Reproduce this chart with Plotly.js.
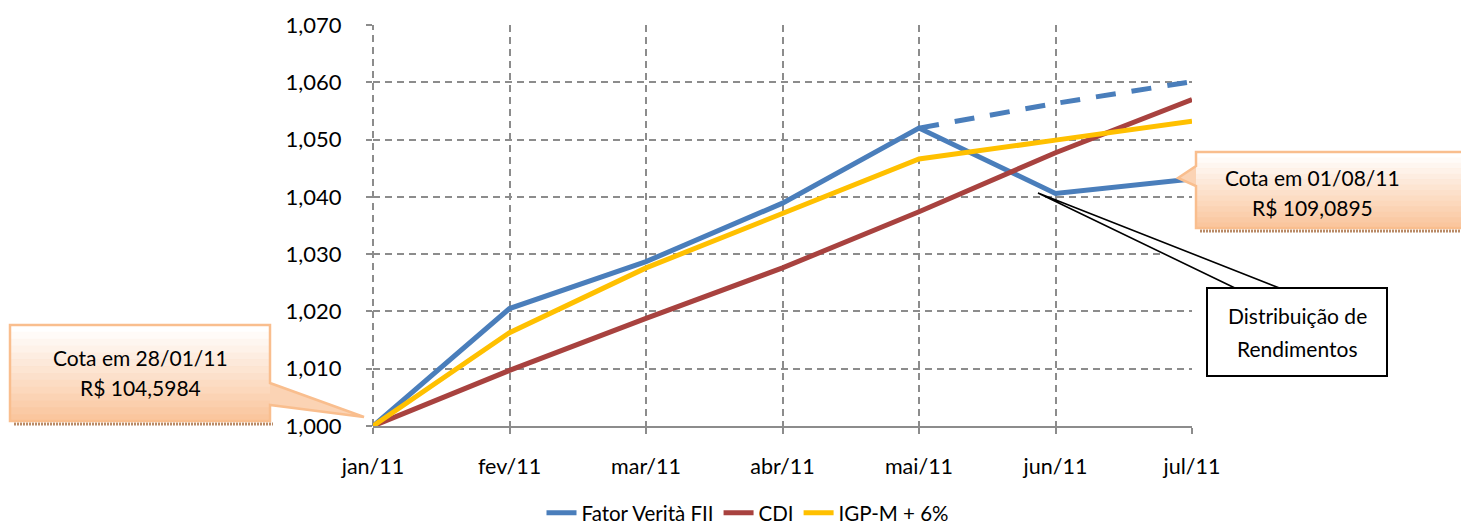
<!DOCTYPE html>
<html>
<head>
<meta charset="utf-8">
<script src="https://cdn.plot.ly/plotly-3.0.1.min.js"></script>
<style>
html,body{margin:0;padding:0;background:#fff;}
#chart{width:1461px;height:528px;}
</style>
</head>
<body>
<div id="chart"></div>
<script>
// ---- data ----
var categories = ['jan/11','fev/11','mar/11','abr/11','mai/11','jun/11','jul/11'];
var fatorVerita = [1.000, 1.0205, 1.0287, 1.0389, 1.0520, 1.0406, 1.0431];
var cdi         = [1.000, 1.0097, 1.0188, 1.0276, 1.0374, 1.0477, 1.0570];
var igpm6       = [1.000, 1.0163, 1.0276, 1.0370, 1.0466, 1.0499, 1.0532];
var fatorSemDistribuicao = [null, null, null, null, 1.0520, 1.0563, 1.0601];
var seriesNames = ['Fator Verità FII', 'CDI', 'IGP-M + 6%'];
var calloutLeft  = ['Cota em 28/01/11', 'R$ 104,5984'];
var calloutRight = ['Cota em 01/08/11', 'R$ 109,0895'];
var boxText      = ['Distribuição de', 'Rendimentos'];

// ---- layout geometry (pixels) ----
var W = 1461, H = 528;
var L = 373, R = 1192, T = 25, B = 426;
function px(x){ return (x - L) / (R - L); }
function py(y){ return (B - y) / (B - T); }
function path(pts){
  return pts.map(function(p,i){ return (i? 'L':'M') + px(p[0]) + ',' + py(p[1]); }).join(' ') + ' Z';
}

var FONT = 'Lato, "Open Sans", sans-serif';
var blue = '#4A7EBB', red = '#A8423F', yellow = '#FFC000';
var GRID = '#8C8C8C';

var traces = [
  {x: categories, y: fatorVerita, name: seriesNames[0], type: 'scatter', mode: 'lines',
   line: {color: blue, width: 5}},
  {x: categories, y: cdi, name: seriesNames[1], type: 'scatter', mode: 'lines',
   line: {color: red, width: 5}},
  {x: categories, y: igpm6, name: seriesNames[2], type: 'scatter', mode: 'lines',
   line: {color: yellow, width: 5}},
  {x: categories, y: fatorSemDistribuicao, name: seriesNames[0], type: 'scatter', mode: 'lines',
   showlegend: false, line: {color: blue, width: 5, dash: '20px,16px', shape: 'spline', smoothing: 0.6}}
];

var shapes = [];
var annotations = [];

// dashed vertical grid line at the left edge (acts as the y axis)
shapes.push({type:'line', xref:'paper', yref:'paper', x0:0, x1:0, y0:0, y1:1,
  line:{color:GRID, width:2, dash:'7px,5px'}, layer:'below'});

function gradientCallout(rect, outline, shadowY){
  shapes.push({type:'path', xref:'paper', yref:'paper', path: path(outline),
    fillcolor:'#FBD3B4', line:{width:0}, layer:'above'});
  var n = 14, x0 = rect[0], y0 = rect[1], x1 = rect[2], y1 = rect[3];
  var c0 = [255,255,255], c1 = [250,198,158];
  for (var i = 0; i < n; i++){
    var t = i/(n-1);
    var c = c0.map(function(v,k){ return Math.round(v + (c1[k]-v)*t); });
    var ya = y0 + (y1-y0)*i/n, yb = y0 + (y1-y0)*(i+1)/n;
    shapes.push({type:'rect', xref:'paper', yref:'paper',
      x0: px(x0), x1: px(x1), y0: py(ya), y1: py(yb+0.5),
      fillcolor:'rgb('+c.join(',')+')', line:{width:0}, layer:'above'});
  }
  shapes.push({type:'line', xref:'paper', yref:'paper',
    x0: px(x0+4), x1: px(x1+3), y0: py(shadowY), y1: py(shadowY),
    line:{color:'#B98A66', width:3, dash:'2px,1px'}, layer:'above'});
  shapes.push({type:'path', xref:'paper', yref:'paper', path: path(outline),
    fillcolor:'rgba(0,0,0,0)', line:{color:'#F9BE8E', width:2.5}, layer:'above'});
}

gradientCallout([10,325,270,421],
  [[10,325],[270,325],[270,383],[364,417],[270,405],[270,421],[10,421]], 424);
gradientCallout([1196,152,1475,228],
  [[1196,152],[1475,152],[1475,228],[1196,228],[1196,186],[1178,178],[1196,166]], 231);

shapes.push({type:'path', xref:'paper', yref:'paper',
  path: path([[1237,289],[1038,193],[1282,289]]),
  fillcolor:'#FFFFFF', line:{color:'#000000', width:1.6}, layer:'above'});
shapes.push({type:'rect', xref:'paper', yref:'paper',
  x0: px(1207), x1: px(1387), y0: py(376), y1: py(288),
  fillcolor:'#FFFFFF', line:{color:'#000000', width:2}, layer:'above'});

function txt(s, x, y){
  annotations.push({text: s, xref:'paper', yref:'paper', x: px(x), y: py(y),
    xanchor:'center', yanchor:'middle', showarrow:false,
    font:{family: FONT, size: 21, color:'#000'}});
}
txt(calloutLeft[0], 140, 357);
txt(calloutLeft[1], 140, 387);
txt(calloutRight[0], 1312, 177);
txt(calloutRight[1], 1312, 207);
txt(boxText[0], 1297, 315);
txt(boxText[1], 1297, 348);

var layout = {
  width: W, height: H,
  margin: {l: L, r: W - R, t: T, b: H - B, pad: 0, autoexpand: false},
  paper_bgcolor: '#fff', plot_bgcolor: '#fff',
  separators: ',.',
  font: {family: FONT, size: 21, color: '#000'},
  showlegend: true,
  legend: {orientation: 'h', x: px(748), xanchor: 'center', y: py(513), yanchor: 'middle',
           itemwidth: 30, tracegroupgap: 0,
           font: {family: FONT, size: 20.5, color: '#000'}, bgcolor: 'rgba(0,0,0,0)'},
  xaxis: {type: 'category', range: [0, categories.length - 1],
          showgrid: true, gridcolor: GRID, gridwidth: 2, griddash: '7px,5px',
          showline: true, linecolor: GRID, linewidth: 2,
          ticks: 'outside', ticklen: 6, tickcolor: GRID, tickwidth: 2,
          ticklabelstandoff: 14, zeroline: false, fixedrange: true,
          tickfont: {family: FONT, size: 21.5, color: '#000'}},
  yaxis: {range: [1.000, 1.070], dtick: 0.01, tick0: 1.0, tickformat: '.3f',
          showgrid: true, gridcolor: GRID, gridwidth: 2, griddash: '7px,5px',
          showline: false, zeroline: false,
          ticks: 'outside', ticklen: 6, tickcolor: GRID, tickwidth: 2,
          ticklabelstandoff: 20, fixedrange: true,
          tickfont: {family: FONT, size: 22, color: '#000'}},
  shapes: shapes,
  annotations: annotations,
  hovermode: false
};

Plotly.newPlot('chart', traces, layout, {displayModeBar: false, staticPlot: true});
</script>
</body>
</html>
